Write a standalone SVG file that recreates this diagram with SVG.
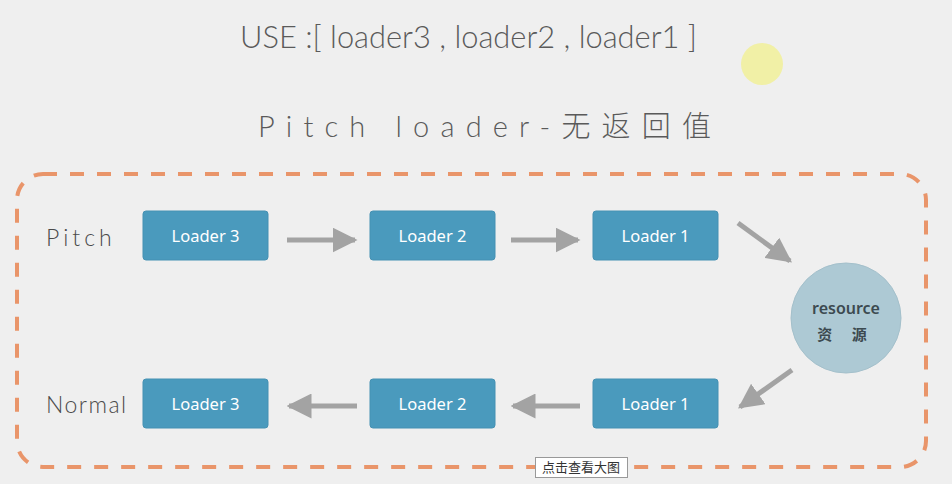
<svg xmlns="http://www.w3.org/2000/svg" width="952" height="484" viewBox="0 0 952 484">
<defs>
<marker id="ah" viewBox="0 0 10 10" refX="9" refY="5" markerWidth="5" markerHeight="5" markerUnits="strokeWidth" orient="auto">
<path d="M0,0 L10,5 L0,10 z" fill="#a3a3a3"/>
</marker>
</defs>
<style>
.title{font-family:"Lato","Noto Sans","Noto Sans CJK SC",sans-serif;font-weight:300;fill:#5a5a5a;}
.lbl{font-family:"Lato","Noto Sans",sans-serif;font-weight:300;font-size:23px;fill:#4a4a4a;}
.box{fill:#4a9abd;stroke:#4591b3;stroke-width:1;}
.bt{font-family:"Noto Sans",sans-serif;font-size:16.5px;fill:#fff;text-anchor:middle;}
.conn line{stroke:#a3a3a3;stroke-width:5;marker-end:url(#ah);}
</style>
<rect width="952" height="484" fill="#efefef"/>
<circle cx="762" cy="64" r="21" fill="#f1f0a6"/>
<text class="title" x="240" y="48" font-size="30.5" textLength="457" lengthAdjust="spacingAndGlyphs">USE :[ loader3 , loader2 , loader1 ]</text>
<text class="title" x="258" y="137" font-size="29" letter-spacing="11" textLength="464" lengthAdjust="spacing">Pitch loader-无返回值</text>
<rect x="17" y="174" width="909" height="293" rx="26" fill="none" stroke="#e9956a" stroke-width="4" stroke-dasharray="14,13"/>
<text class="lbl" x="46" y="246" letter-spacing="4">Pitch</text>
<text class="lbl" x="46" y="413" letter-spacing="1.5">Normal</text>
<g class="conn">
<line x1="287" y1="240" x2="355" y2="240"/>
<line x1="511" y1="240" x2="578" y2="240"/>
<line x1="738" y1="223" x2="790" y2="261"/>
<line x1="792" y1="370" x2="740" y2="407"/>
<line x1="580" y1="406" x2="513" y2="406"/>
<line x1="357" y1="406" x2="289" y2="406"/>
</g>
<g id="p3"><rect class="box" x="143" y="211" width="125" height="49" rx="3"/><text class="bt" x="205.5" y="242">Loader 3</text></g>
<g id="p2"><rect class="box" x="370" y="211" width="125" height="49" rx="3"/><text class="bt" x="432.5" y="242">Loader 2</text></g>
<g id="p1"><rect class="box" x="593" y="211" width="125" height="49" rx="3"/><text class="bt" x="655.5" y="242">Loader 1</text></g>
<g id="n3"><rect class="box" x="143" y="379" width="125" height="49" rx="3"/><text class="bt" x="205.5" y="410">Loader 3</text></g>
<g id="n2"><rect class="box" x="370" y="379" width="125" height="49" rx="3"/><text class="bt" x="432.5" y="410">Loader 2</text></g>
<g id="n1"><rect class="box" x="593" y="379" width="125" height="49" rx="3"/><text class="bt" x="655.5" y="410">Loader 1</text></g>
<g id="resource">
<circle cx="846" cy="318" r="55" fill="#adc9d4" stroke="#a4c0cb" stroke-width="1"/>
<text x="846" y="314" font-family="Noto Sans,sans-serif" font-weight="600" font-size="16" fill="#3c4a50" text-anchor="middle">resource</text>
<text x="846" y="340" font-family="Noto Sans CJK SC,sans-serif" font-weight="600" font-size="15" fill="#3c4a50" text-anchor="middle" letter-spacing="8">资 源</text>
</g>
<g id="tooltip">
<rect x="535.5" y="457.5" width="92" height="20" fill="#fff" stroke="#999" stroke-width="1"/>
<text x="581" y="472" font-family="Noto Sans CJK SC,sans-serif" font-size="13" fill="#333" text-anchor="middle">点击查看大图</text>
</g>
</svg>
